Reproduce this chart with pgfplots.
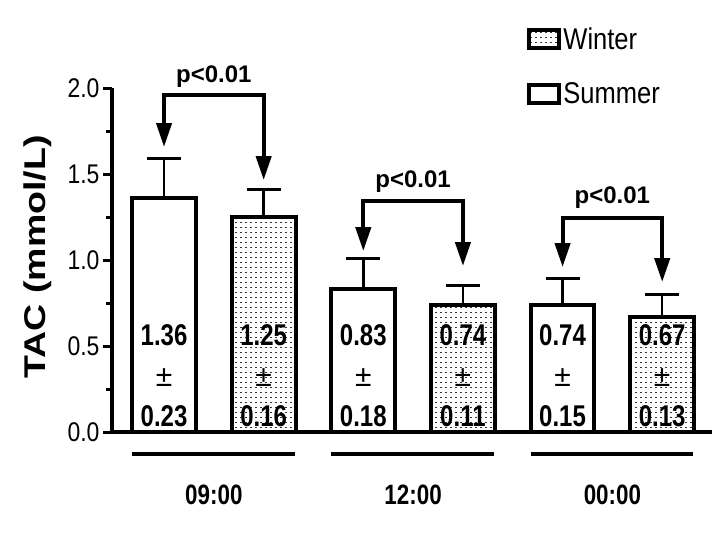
\documentclass[border=0pt]{standalone}
\usepackage{pgfplots}
\pgfplotsset{compat=1.18}
\usepackage{fontspec}
\setmainfont{Liberation Sans}
\newfontfamily\narrow[FakeStretch=0.85]{Liberation Sans}
\newfontfamily\narrowb[FakeStretch=0.8]{Liberation Sans}
\newfontfamily\wide[FakeStretch=1.25]{Liberation Sans}
\usetikzlibrary{patterns.meta,arrows.meta}
\tikzdeclarepattern{
  name=sparsedots,
  type=uncolored,
  bottom left={(-0.1pt,-0.1pt)},
  top right={(5.1pt,5.1pt)},
  tile size={(5pt,5pt)},
  code={\fill (0pt,0pt) rectangle (1.5pt,1.5pt);}
}
\tikzset{
  vnum/.style={font=\narrowb\bfseries\fontsize{30}{30}\selectfont, anchor=base, inner sep=0pt},
  vpm/.style={font=\fontsize{30}{30}\selectfont, anchor=base, inner sep=0pt},
  ptxt/.style={font=\bfseries\fontsize{24}{24}\selectfont, anchor=base, inner sep=0pt},
  glab/.style={font=\narrowb\bfseries\fontsize{28}{28}\selectfont, anchor=base, inner sep=0pt},
  br/.style={line width=4pt, line join=miter, {Triangle[length=24pt,width=15pt]}-{Triangle[length=24pt,width=15pt]}}
}
\begin{document}
\begin{tikzpicture}
\begin{axis}[
  scale only axis, width=600pt, height=344pt,
  xmin=-0.522, xmax=5.5, ymin=0, ymax=2,
  axis lines*=left,
  axis line style={line width=4pt},
  clip=false,
  xtick=\empty,
  ytick={0,0.5,1,1.5,2},
  minor ytick={0.25,0.75,1.25,1.75},
  ytick pos=left,
  ytick align=outside,
  major tick length=9pt, minor tick length=6pt,
  tick style={line width=3pt, black},
  /pgf/number format/fixed, /pgf/number format/fixed zerofill,
  /pgf/number format/precision=1, /pgf/number format/assume math mode=true,
  yticklabel style={font=\narrow\fontsize{27}{27}\selectfont},
  ylabel={TAC (mmol/L)},
  ylabel style={font=\wide\bfseries\fontsize{30}{30}\selectfont, at={(rel axis cs:-0.123,0.509)}, anchor=center},
  legend style={at={(rel axis cs:0.692,1.182)}, anchor=north west, draw=none, fill=none,
    font=\narrow\fontsize{30}{30}\selectfont, row sep=28pt, inner sep=0pt},
  legend cell align=left,
]
% Summer (white)
\addplot[ybar, bar width=0.64, bar shift=0pt, draw=black, line width=4pt, fill=white, forget plot,
  error bars/.cd, y dir=plus, y explicit, error bar style={line width=2.5pt, black},
  error mark options={rotate=90, mark size=17pt, line width=3pt, black}]
  table[x=x, y=y, y error=e]{
x y e
0 1.36 0.23
2 0.83 0.18
4 0.74 0.15
};
% Winter (dotted)
\addplot[ybar, bar width=0.64, bar shift=0pt, draw=black, line width=4pt, pattern=sparsedots, pattern color=black!80, forget plot,
  error bars/.cd, y dir=plus, y explicit, error bar style={line width=2.5pt, black},
  error mark options={rotate=90, mark size=17pt, line width=3pt, black}]
  table[x=x, y=y, y error=e]{
x y e
1 1.25 0.16
3 0.74 0.11
5 0.67 0.13
};
\addlegendimage{legend image code/.code={\draw[line width=4pt, pattern=sparsedots, pattern color=black!80] (0pt,-9pt) rectangle (30pt,9pt);}}
\addlegendentry{Winter}
\addlegendimage{legend image code/.code={\draw[line width=4pt, fill=white] (0pt,-9pt) rectangle (30pt,9pt);}}
\addlegendentry{Summer}

% values in bars
\node[vnum] at (axis cs:0,0.506) {1.36};
\node[vpm] at (axis cs:0,0.267) {±};
\node[vnum] at (axis cs:0,0.033) {0.23};
\node[vnum] at (axis cs:1,0.506) {1.25};
\node[vpm] at (axis cs:1,0.267) {±};
\node[vnum] at (axis cs:1,0.033) {0.16};
\node[vnum] at (axis cs:2,0.506) {0.83};
\node[vpm] at (axis cs:2,0.267) {±};
\node[vnum] at (axis cs:2,0.033) {0.18};
\node[vnum] at (axis cs:3,0.506) {0.74};
\node[vpm] at (axis cs:3,0.267) {±};
\node[vnum] at (axis cs:3,0.033) {0.11};
\node[vnum] at (axis cs:4,0.506) {0.74};
\node[vpm] at (axis cs:4,0.267) {±};
\node[vnum] at (axis cs:4,0.033) {0.15};
\node[vnum] at (axis cs:5,0.506) {0.67};
\node[vpm] at (axis cs:5,0.267) {±};
\node[vnum] at (axis cs:5,0.033) {0.13};

% significance brackets
\draw[br] (axis cs:0,1.657) -- (axis cs:0,1.96) -- (axis cs:1,1.96) -- (axis cs:1,1.465);
\draw[br] (axis cs:2,1.052) -- (axis cs:2,1.343) -- (axis cs:3,1.343) -- (axis cs:3,0.965);
\draw[br] (axis cs:4,0.959) -- (axis cs:4,1.244) -- (axis cs:5,1.244) -- (axis cs:5,0.872);
\node[ptxt] at (axis cs:0.5,2.03) {p<0.01};
\node[ptxt] at (axis cs:2.5,1.419) {p<0.01};
\node[ptxt] at (axis cs:4.5,1.331) {p<0.01};

% group lines and labels
\draw[line width=4pt] (axis cs:-0.32,-0.128) -- (axis cs:1.31,-0.128);
\draw[line width=4pt] (axis cs:1.68,-0.128) -- (axis cs:3.31,-0.128);
\draw[line width=4pt] (axis cs:3.68,-0.128) -- (axis cs:5.31,-0.128);
\node[glab] at (axis cs:0.5,-0.424) {09:00};
\node[glab] at (axis cs:2.5,-0.424) {12:00};
\node[glab] at (axis cs:4.5,-0.424) {00:00};

% bounding box matching reference proportions
\path (rel axis cs:-0.1867,-0.308) rectangle (rel axis cs:1.0183,1.256);
\end{axis}
\end{tikzpicture}
\end{document}
